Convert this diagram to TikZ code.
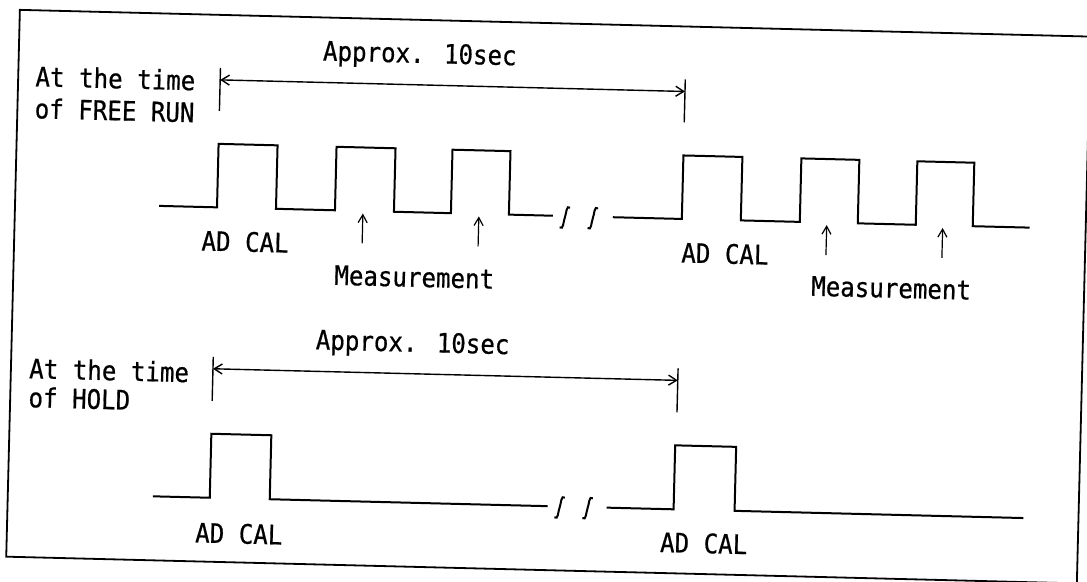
\documentclass[tikz,border=0pt]{standalone}
\usepackage{fontspec}
\newfontfamily\dotfont[FakeStretch=0.9,FakeBold=0.6]{DejaVu Sans Mono}
\usetikzlibrary{arrows.meta}
\begin{document}
\begin{tikzpicture}[x=0.5pt,y=-0.5pt,
  lbl/.style={font=\dotfont\fontsize{13.4}{15}\selectfont, inner sep=0pt, anchor=base},
  lblw/.style={lbl, anchor=base west},
  wave/.style={line width=1pt, line join=miter},
  frm/.style={line width=0.9pt},
  dimline/.style={line width=0.7pt, {Straight Barb[length=4pt,width=5pt]}-{Straight Barb[length=4pt,width=5pt]}},
  tickline/.style={line width=0.7pt},
  uparrow/.style={line width=0.6pt, -{Straight Barb[length=4pt,width=4.5pt]}},
  pics/brksym/.style={code={\draw[line width=1pt] (5,-10) .. controls (1,-13) and (1.5,-4) .. (0,0) .. controls (-1.5,4) and (-1,13) .. (-5,10);}}]
\useasboundingbox (0,0) rectangle (1087,582);
\clip (0,0) rectangle (1087,582);
\fill[white] (0,0) rectangle (1087,582);
\begin{scope}[rotate around={-1.43:(543,291)}, transform shape]
% frame
\draw[frm] (13,23) rectangle (1084,570);

% ---------- FREE RUN ----------
\node[lbl]  (fapprox) at (414,66) {Approx. 10sec};
\node[lblw] (ft1) at (30,99)  {At the time};
\node[lblw] (ft2) at (30,131) {of FREE RUN};
\coordinate (fl1) at (215,76);  \coordinate (fl2) at (215,119);
\coordinate (fr1) at (680,76);  \coordinate (fr2) at (680,119);
\coordinate (fa1) at (215,88);  \coordinate (fa2) at (680,88);
\draw[tickline] (fl1) -- (fl2);
\draw[tickline] (fr1) -- (fr2);
\draw[dimline] (fa1) -- (fa2);

\draw[wave] (157,215.5) -| (215,152) -| (274,215.5) -| (333,152) -| (392,215.5) -| (449,152) -| (507,215.5) -- (551,215.5);
\pic at (563,217) {brksym};
\pic at (591,217) {brksym};
\draw[wave] (611,215.5) -| (680,152) -| (739,215.5) -| (798,152) -| (856,215.5) -| (914,152) -| (971,215.5) -- (1028,215.5);

\coordinate (m1b) at (361,248); \coordinate (m1t) at (361,218);
\coordinate (m2b) at (477,248); \coordinate (m2t) at (477,218);
\coordinate (m3b) at (825,248); \coordinate (m3t) at (825,218);
\coordinate (m4b) at (941,248); \coordinate (m4t) at (941,218);
\draw[uparrow] (m1b) -- (m1t);
\draw[uparrow] (m2b) -- (m2t);
\draw[uparrow] (m3b) -- (m3t);
\draw[uparrow] (m4b) -- (m4t);

\node[lbl] (fcal1) at (244,259) {AD CAL};
\node[lbl] (fcal2) at (724,259) {AD CAL};
\node[lbl] (fmeas1) at (414,290) {Measurement};
\node[lbl] (fmeas2) at (891,289) {Measurement};

% ---------- HOLD ----------
\node[lbl]  (happrox) at (414,355) {Approx. 10sec};
\node[lblw] (ht1) at (31,391) {At the time};
\node[lblw] (ht2) at (31,420) {of HOLD};
\coordinate (hl1) at (215,365);  \coordinate (hl2) at (215,409);
\coordinate (hr1) at (680,365);  \coordinate (hr2) at (680,409);
\coordinate (ha1) at (215,377);  \coordinate (ha2) at (680,377);
\draw[tickline] (hl1) -- (hl2);
\draw[tickline] (hr1) -- (hr2);
\draw[dimline] (ha1) -- (ha2);

\draw[wave] (158,506) -| (215,442) -| (275,506) -- (553,506);
\pic at (565,507) {brksym};
\pic at (593,507) {brksym};
\draw[wave] (612,506) -| (679,442) -| (740,506) -- (1029,506);

\node[lbl] (hcal1) at (245,551) {AD CAL};
\node[lbl] (hcal2) at (710,549) {AD CAL};
\end{scope}
\end{tikzpicture}
\end{document}
